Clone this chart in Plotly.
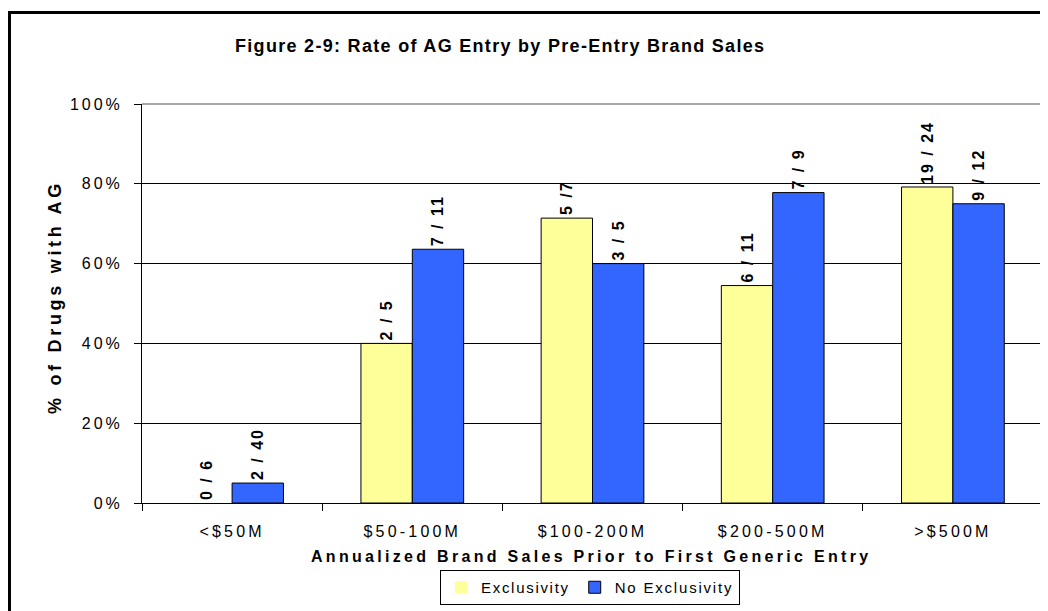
import plotly.graph_objects as go

categories = ["<$50M", "$50-100M", "$100-200M", "$200-500M", ">$500M"]
exclusivity_pct = [0.0, 40.0, 71.4, 54.5, 79.2]
no_exclusivity_pct = [5.0, 63.6, 60.0, 77.8, 75.0]
exclusivity_labels = ["0 / 6", "2 / 5", "5 /7", "6 / 11", "19 / 24"]
no_exclusivity_labels = ["2 / 40", "7 / 11", "3 / 5", "7 / 9", "9 / 12"]
y_tick_values = [0, 20, 40, 60, 80, 100]
y_tick_labels = ["0%", "20%", "40%", "60%", "80%", "100%"]

FONT = "Liberation Sans, Arial, sans-serif"
OFF = 8  # page body margin of the browser
VW, VH = 1048, 611
W, H = VW - OFF, VH - OFF
L, R, T, B = 142, 1043, 104, 503   # plot area in window pixels


def sp(s, ls=2.0):
    s = s.replace("<", "&lt;").replace(">", "&gt;")
    return f"<span style='letter-spacing:{ls}px'>{s}</span>"


def px(x):
    return (x - L) / (R - L)


def py(y):
    return (B - y) / (B - T)


def outline(vals):
    return [0 if v == 0 else 1 for v in vals]


fig = go.Figure()
fig.add_trace(go.Bar(
    x=categories, y=exclusivity_pct, name=sp("Exclusivity", 1.7),
    marker=dict(color="#FFFF99", line=dict(color="black", width=outline(exclusivity_pct))),
    text=[f"<b>{sp(t, 2.0)}</b>" for t in exclusivity_labels],
    textposition="outside", textangle=-90, cliponaxis=False,
    constraintext="none",
    textfont=dict(family=FONT, size=16, color="black"),
    hoverinfo="skip",
))
fig.add_trace(go.Bar(
    x=categories, y=no_exclusivity_pct, name=sp("No Exclusivity", 1.8),
    marker=dict(color="#3366FF", line=dict(color="black", width=outline(no_exclusivity_pct))),
    text=[f"<b>{sp(t, 2.0)}</b>" for t in no_exclusivity_labels],
    textposition="outside", textangle=-90, cliponaxis=False,
    constraintext="none",
    textfont=dict(family=FONT, size=16, color="black"),
    hoverinfo="skip",
))

fig.update_layout(
    width=W, height=H,
    margin=dict(l=L - OFF, r=VW - R, t=T - OFF, b=VH - B, pad=0),
    paper_bgcolor="white", plot_bgcolor="white",
    barmode="group", bargap=0.43, bargroupgap=0,
    font=dict(family=FONT, size=16, color="black"),
    showlegend=True,
    legend=dict(
        orientation="h", x=px(590), xanchor="center", y=py(605), yanchor="bottom",
        bordercolor="black", borderwidth=1, bgcolor="white",
        font=dict(family=FONT, size=15, color="black"),
        itemwidth=30, tracegroupgap=0,
    ),
    xaxis=dict(
        type="category", tickvals=categories, ticktext=[sp(c, 3.2) for c in categories],
        showline=True, linecolor="black", linewidth=1,
        ticks="outside", tickson="boundaries", ticklen=7, tickcolor="black",
        tickfont=dict(family=FONT, size=16, color="black"),
        ticklabelstandoff=14, showgrid=False, zeroline=False,
    ),
    yaxis=dict(
        range=[0, 100], tickvals=y_tick_values, ticktext=[sp(t, 3.0) for t in y_tick_labels],
        showline=True, linecolor="black", linewidth=1,
        ticks="outside", ticklen=7, tickcolor="black",
        tickfont=dict(family=FONT, size=16, color="black"),
        ticklabelstandoff=8,
        showgrid=True, gridcolor="black", gridwidth=1, zeroline=False,
    ),
    shapes=[
        dict(type="line", xref="paper", yref="paper", x0=0, x1=1, y0=1, y1=1,
             line=dict(color="#8c8c8c", width=1.5), layer="above"),
        dict(type="line", xref="paper", yref="paper", x0=1, x1=1, y0=0, y1=1,
             line=dict(color="#8c8c8c", width=1.5), layer="above"),
        dict(type="rect", xref="paper", yref="paper",
             x0=px(9.5), x1=px(1060), y0=py(630), y1=py(12.5),
             line=dict(color="black", width=3), layer="above"),
    ],
    annotations=[
        dict(text=f"<b>{sp('Figure 2-9: Rate of AG Entry by Pre-Entry Brand Sales', 1.3)}</b>",
             xref="paper", yref="paper", x=px(500), y=py(46),
             xanchor="center", yanchor="middle", showarrow=False,
             font=dict(family=FONT, size=18, color="black")),
        dict(text=f"<b>{sp('Annualized Brand Sales Prior to First Generic Entry', 3.3)}</b>",
             xref="paper", yref="paper", x=px(591), y=py(556),
             xanchor="center", yanchor="middle", showarrow=False,
             font=dict(family=FONT, size=16, color="black")),
        dict(text=f"<b>{sp('% of Drugs with AG', 3.7)}</b>",
             xref="paper", yref="paper", x=px(55), y=py(297), textangle=-90,
             xanchor="center", yanchor="middle", showarrow=False,
             font=dict(family=FONT, size=18, color="black")),
    ],
)

fig.write_html("out.html")
